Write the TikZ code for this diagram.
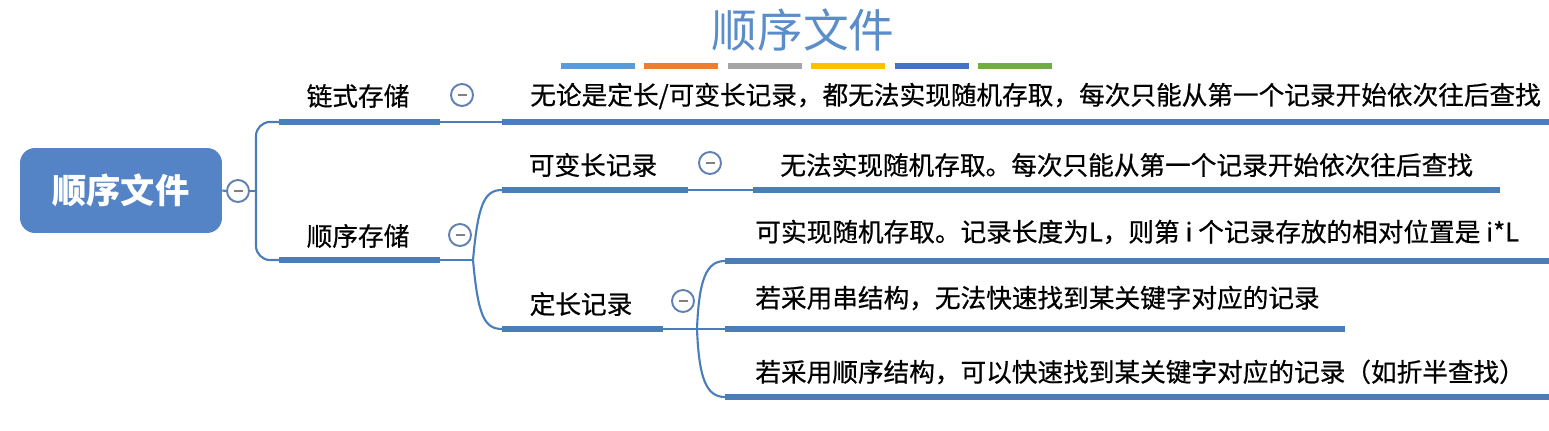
\documentclass[tikz,border=0pt]{standalone}
\usepackage{fontspec}
\setmainfont{Noto Sans CJK SC}
\newfontfamily\topicfont[FakeBold=0.6]{Noto Sans CJK SC}
\usetikzlibrary{positioning}

\definecolor{linkblue}{RGB}{74,126,187}
\definecolor{rootblue}{RGB}{84,132,198}
\definecolor{titleblue}{RGB}{91,142,201}
\definecolor{foldblue}{RGB}{96,128,178}
\definecolor{barA}{RGB}{91,155,213}
\definecolor{barB}{RGB}{237,125,49}
\definecolor{barC}{RGB}{165,165,165}
\definecolor{barD}{RGB}{255,192,0}
\definecolor{barE}{RGB}{68,114,196}
\definecolor{barF}{RGB}{112,173,71}

\begin{document}
\begin{tikzpicture}[x=0.02cm, y=-0.02cm,
    topic/.style={font=\fontsize{14.6}{17}\selectfont\topicfont, inner sep=0pt},
    rootbox/.style={fill=rootblue, rounded corners=0.3cm, minimum width=4.04cm, minimum height=1.7cm,
        text=white, font=\fontsize{19.5}{22}\selectfont\bfseries},
    fold/.style={circle, draw=foldblue, line width=1.1pt, fill=white, minimum size=0.44cm, inner sep=0pt,
        path picture={\draw[gray, line width=1.1pt] ([xshift=-0.09cm]path picture bounding box.center)
            -- ([xshift=0.09cm]path picture bounding box.center);}},
    under/.style={draw=linkblue, line width=3.2pt},
    link/.style={draw=linkblue, line width=1.2pt}]
    \useasboundingbox (0,0) rectangle (1549,431);

    \node[font=\fontsize{26}{30}\selectfont, text=titleblue] (title) at (803,30) {顺序文件};
    \foreach \c [count=\i] in {barA,barB,barC,barD,barE,barF}
        \draw[\c, line width=3.4pt] ({561+83.4*(\i-1)},66) -- ++(74,0);

    \node[rootbox] (root) at (121,190.5) {顺序文件};
    \node[fold] (f0) at (238,191) {};
    \coordinate (j0) at (256,191);
    \draw[link] (root.east) -- (f0.west);
    \draw[link] (f0.east) -- (j0);

    \node[topic] (chain) at (358,96) {链式存储};
    \node[fold] (f1) at (462,95) {};
    \coordinate (chainL) at (279,122);
    \coordinate (chainR) at (440,122);
    \node[topic, anchor=west] (noteA) at (530,96) {无论是定长/可变长记录，都无法实现随机存取，每次只能从第一个记录开始依次往后查找};
    \coordinate (noteAL) at (502,122);

    \node[topic] (seq) at (358,236) {顺序存储};
    \node[fold] (f2) at (460,235) {};
    \coordinate (seqL) at (279,260);
    \coordinate (seqR) at (440,260);
    \coordinate (j1) at (473,260);

    \draw[link, rounded corners=8] (chainL) -| (j0) |- (seqL);
    \draw[under] (chainL) -- (chainR);
    \draw[under] (seqL) -- (seqR);
    \draw[link] (chainR) -- (noteAL);
    \draw[under] (noteAL) -- (1549,122);
    \draw[link] (seqR) -- (j1);

    \node[topic] (var) at (593,165) {可变长记录};
    \node[fold] (f3) at (710,163) {};
    \coordinate (varL) at (502,190);
    \coordinate (varR) at (688,190);
    \node[topic, anchor=west] (noteB) at (780,165) {无法实现随机存取。每次只能从第一个记录开始依次往后查找};
    \coordinate (noteBL) at (753,190);
    \draw[link] (j1) .. controls (478,205) and (484,190) .. (varL);
    \draw[under] (varL) -- (varR);
    \draw[link] (varR) -- (noteBL);
    \draw[under] (noteBL) -- (1500,190);

    \node[topic] (fix) at (581,304) {定长记录};
    \node[fold] (f4) at (683,301) {};
    \coordinate (fixL) at (502,329);
    \coordinate (fixR) at (663,329);
    \coordinate (j2) at (697,329);
    \draw[link] (j1) .. controls (478,315) and (484,329) .. (fixL);
    \draw[under] (fixL) -- (fixR);
    \draw[link] (fixR) -- (j2);

    \node[topic, anchor=west] (noteC) at (755,232) {可实现随机存取。记录长度为L，则第 i 个记录存放的相对位置是 i*L};
    \node[topic, anchor=west] (noteD) at (755,298) {若采用串结构，无法快速找到某关键字对应的记录};
    \node[topic, anchor=west] (noteE) at (755,372) {若采用顺序结构，可以快速找到某关键字对应的记录（如折半查找）};
    \coordinate (k1) at (725,261);
    \coordinate (k2) at (725,329);
    \coordinate (k3) at (725,397);
    \draw[link] (j2) .. controls (699,280) and (706,261) .. (k1);
    \draw[link] (j2) -- (k2);
    \draw[link] (j2) .. controls (699,378) and (706,397) .. (k3);
    \draw[under] (k1) -- (1549,261);
    \draw[under] (k2) -- (1345,329);
    \draw[under] (k3) -- (1549,397);
\end{tikzpicture}
\end{document}
